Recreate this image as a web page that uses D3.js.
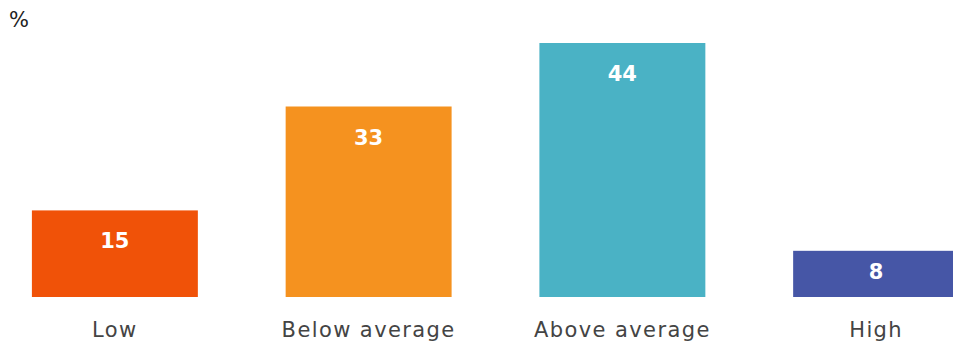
<!DOCTYPE html>
<html>
<head>
<meta charset="UTF-8">
<script src="https://cdn.jsdelivr.net/npm/d3@7"></script>
<style>
  body { margin: 0; background: #fff; }
  svg { display: block; }
</style>
</head>
<body>
<svg id="chart" width="953" height="342"></svg>
<script>
// data
const categories = ["Low", "Below average", "Above average", "High"];
const values = [15, 33, 44, 8];
const colors = ["#F05208", "#F5921F", "#4AB2C5", "#4656A6"];
const unitLabel = "%";

const svg = d3.select("#chart");
const baseY = 297;

const x = d3.scaleBand()
  .domain(categories)
  .range([-12, 1003])
  .paddingInner(0.346)
  .paddingOuter(0.173);

const y = d3.scaleLinear()
  .domain([0, 44])
  .range([baseY, 43]);

svg.append("text")
  .attr("x", 9)
  .attr("y", 27)
  .attr("font-family", "DejaVu Sans, sans-serif")
  .attr("font-size", 21)
  .attr("fill", "#222")
  .text(unitLabel);

const bars = svg.selectAll("g.bar")
  .data(categories)
  .enter().append("g")
  .attr("class", "bar");

bars.append("rect")
  .attr("x", d => x(d))
  .attr("y", (d, i) => y(values[i]))
  .attr("width", x.bandwidth())
  .attr("height", (d, i) => baseY - y(values[i]))
  .attr("fill", (d, i) => colors[i]);

// value labels, inside the top of each bar
bars.append("text")
  .attr("x", d => x(d) + x.bandwidth() / 2)
  .attr("y", (d, i) => Math.min(y(values[i]) + 38, baseY - 18))
  .attr("text-anchor", "middle")
  .attr("font-family", "DejaVu Sans, sans-serif")
  .attr("font-weight", "bold")
  .attr("font-size", 21)
  .attr("fill", "#fff")
  .text((d, i) => values[i]);

// category axis labels
bars.append("text")
  .attr("x", d => x(d) + x.bandwidth() / 2)
  .attr("y", 337)
  .attr("text-anchor", "middle")
  .attr("font-family", "DejaVu Sans, sans-serif")
  .attr("font-size", 21)
  .attr("letter-spacing", 1.4)
  .attr("fill", "#444")
  .text(d => d);
</script>
</body>
</html>
